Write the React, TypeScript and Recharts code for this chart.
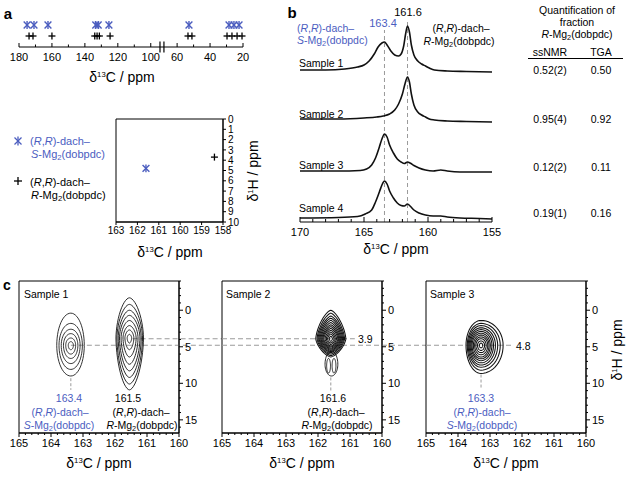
import React from 'react';
import { ComposedChart, Line, Scatter, XAxis, YAxis, ReferenceLine, ReferenceArea } from 'recharts';

const FONT = '"Liberation Sans", Arial, Helvetica, sans-serif';
const BLUE = '#4b5dbf';
const DASH = '#9a9a9a';

// ---------------- Panel a (top): 13C shifts of both phases ----------------
const aAxisGap = 24; // ppm removed by the axis break
const aShiftsS = [175.1, 170.9, 162.4, 133.4, 131.9, 125.4, 52.8, 28.5, 25.5, 22.4];
const aShiftsR = [173.9, 171.5, 160.0, 134.0, 132.6, 131.2, 124.7, 53.4, 51.0, 29.7, 26.7, 23.6, 20.6];
const aTickPpm = [180, 170, 160, 150, 140, 130, 120, 110, 100, 60, 50, 40, 30, 20];
const aTickLabels = [180, 160, 140, 120, 100, 60, 40, 20];
const aBreakUnits = [94.4, 92.0];

// ---------------- Panel a (box): 1H-13C correlation ----------------
const a2Carbon = [161.6, 158.4];
const a2Proton = [4.8, 3.7];
const a2XTicks = [158, 159, 160, 161, 162, 163];
const a2YTicks = [0, 1, 2, 3, 4, 5, 6, 7, 8, 9, 10];

// ---------------- Panel b: 1D 13C spectra [ppm, intensity] ----------------
const spec1: [number, number][] = [
  [170, 2], [168, 2], [166.5, 3], [165.5, 5], [165.0, 7], [164.6, 11], [164.2, 18], [163.9, 25], [163.6, 29],
  [163.4, 30], [163.2, 27], [162.9, 21], [162.6, 17], [162.3, 16], [162.1, 18], [161.9, 26], [161.75, 38],
  [161.6, 46], [161.45, 40], [161.3, 27], [161.1, 17], [160.8, 11], [160.5, 8], [160.2, 6], [159.9, 4],
  [159.5, 2], [158.5, 1], [157, 0.5], [155, 0],
];
const spec2: [number, number][] = [
  [170, 3], [167, 3], [165, 4], [164, 5], [163.5, 6], [163, 8], [162.6, 12], [162.3, 18], [162.0, 28],
  [161.8, 38], [161.6, 45], [161.45, 40], [161.3, 28], [161.1, 17], [160.8, 10], [160.5, 7], [160.2, 5],
  [159.9, 3], [159.5, 2], [158.5, 1], [157, 0.5], [155, 0],
];
const spec3: [number, number][] = [
  [170, 1], [167, 1], [165.3, 1.5], [164.8, 3], [164.4, 7], [164.1, 14], [163.8, 25], [163.6, 33], [163.4, 38],
  [163.2, 35], [163.0, 27], [162.7, 19], [162.4, 13], [162.1, 10], [161.85, 8.5], [161.6, 10], [161.4, 9],
  [161.1, 6.5], [160.7, 4], [160.2, 2], [159.6, 1], [159.0, 2], [158.5, 1], [157.5, 0], [155, 0],
];
const spec4: [number, number][] = [
  [170, 1], [167, 1.5], [165.5, 2.5], [164.9, 5], [164.4, 9], [164.1, 17], [163.8, 27], [163.6, 34], [163.4, 38],
  [163.2, 35], [163.0, 28], [162.7, 21], [162.4, 16], [162.1, 13.5], [161.85, 13], [161.6, 15], [161.4, 13],
  [161.1, 9], [160.7, 6], [160.2, 4], [159.6, 3], [159.0, 3], [158.5, 2], [157.5, 1], [156, 0.5], [155, 0],
];
const specNames = ['Sample 1', 'Sample 2', 'Sample 3', 'Sample 4'];
const specPeakMarks = [163.4, 161.6];
const bXTicks = [155, 156, 157, 158, 159, 160, 161, 162, 163, 164, 165, 166, 167, 168, 169, 170];
const bXLabels = [155, 160, 165, 170];

// table
const tableSsnmr = ['0.52(2)', '0.95(4)', '0.12(2)', '0.19(1)'];
const tableTga = ['0.50', '0.92', '0.11', '0.16'];

// ---------------- Panel c: 2D HETCOR contours ----------------
// levels: [extent toward high ppm, extent toward low ppm, extent up (low dH), extent down (high dH)]
const c1PeakS = { center: [163.38, 4.8], k: 1, w: 0.85, levels: [
  [0.44, 0.42, 4.4, 4.2], [0.37, 0.36, 3.0, 3.3], [0.3, 0.29, 2.2, 2.5], [0.23, 0.22, 1.6, 1.8], [0.16, 0.15, 1.0, 1.2], [0.08, 0.08, 0.5, 0.6],
] };
const c1PeakR = { center: [161.55, 3.8], k: 1.15, w: 0.9, levels: [
  [0.42, 0.44, 5.5, 7.1], [0.39, 0.41, 4.6, 6.3], [0.35, 0.37, 3.8, 5.4], [0.31, 0.33, 3.1, 4.5],
  [0.26, 0.27, 2.4, 3.6], [0.2, 0.21, 1.7, 2.6], [0.14, 0.14, 1.1, 1.6], [0.07, 0.07, 0.5, 0.7],
] };
const c2PeakR = { center: [161.6, 3.9], k: 1.35, w: 1.05, levels: [
  [0.47, 0.47, 3.9, 2.5], [0.43, 0.43, 3.5, 2.3], [0.4, 0.4, 3.1, 2.1], [0.37, 0.37, 2.8, 1.9], [0.34, 0.34, 2.5, 1.75],
  [0.31, 0.31, 2.2, 1.6], [0.28, 0.28, 1.9, 1.45], [0.25, 0.25, 1.65, 1.3], [0.22, 0.22, 1.4, 1.15], [0.18, 0.18, 1.15, 1.0],
  [0.14, 0.14, 0.9, 0.8], [0.1, 0.1, 0.65, 0.6], [0.05, 0.05, 0.35, 0.35],
] };
const c2Lobe = { center: [161.58, 7.4], k: 1, w: 0.9, levels: [[0.2, 0.2, 1.8, 1.6]] };
const c2LobeA = { center: [161.67, 7.6], k: 1, w: 0.9, levels: [[0.06, 0.06, 1.0, 1.0]] };
const c2LobeB = { center: [161.5, 7.6], k: 1, w: 0.9, levels: [[0.06, 0.06, 1.0, 1.0]] };
const c3PeakS = { center: [163.28, 4.8], k: 1, w: 1.05, levels: [
  [0.47, 0.69, 3.4, 3.85], [0.43, 0.6, 3.0, 3.4], [0.4, 0.52, 2.7, 3.0], [0.37, 0.45, 2.4, 2.7], [0.34, 0.39, 2.15, 2.4],
  [0.31, 0.34, 1.9, 2.1], [0.28, 0.29, 1.65, 1.85], [0.24, 0.25, 1.4, 1.6], [0.2, 0.21, 1.15, 1.3], [0.16, 0.16, 0.9, 1.0],
  [0.11, 0.11, 0.6, 0.7], [0.05, 0.05, 0.3, 0.35],
] };
const cXLabels = [160, 161, 162, 163, 164, 165];
const cYLabels = [0, 5, 10, 15];

type Peak = { center: number[]; k: number; w: number; levels: number[][] };

function contourPoints(p: Peak, lv: number[]) {
  const [cx, cy] = p.center;
  const [rL, rR, rT, rB] = lv;
  const pts: { x: number; y: number }[] = [];
  const n = 56;
  for (let i = 0; i <= n; i++) {
    const t = (i / n) * 2 * Math.PI;
    const c = Math.cos(t), s = Math.sin(t);
    const ux = Math.sign(c) * Math.pow(Math.abs(c), p.k);
    const uy = Math.sign(s) * Math.pow(Math.abs(s), p.k);
    pts.push({ x: cx - (ux >= 0 ? rR * ux : rL * ux), y: cy + (uy >= 0 ? rB * uy : rT * uy) });
  }
  return pts;
}

const toUnit = (p: number) => (p >= 80 ? p : p + aAxisGap);
const isInt = (v: number) => Math.abs(v - Math.round(v)) < 1e-6;

function BottomTick(props: any) {
  const { x, y, payload, o } = props;
  const lab = o.labelOf(payload.value);
  const len = lab != null ? o.major : o.minor;
  return (
    <g>
      <line x1={x} x2={x} y1={y} y2={y + o.dir * len} stroke="#000" strokeWidth={1} />
      {lab != null && (
        <text x={x} y={y + o.dy} textAnchor="middle" fontSize={o.fs} fontFamily={FONT} fill="#000">{lab}</text>
      )}
    </g>
  );
}
function RightTick(props: any) {
  const { x, y, payload, o } = props;
  const lab = o.labelOf(payload.value);
  const len = lab != null ? o.major : o.minor;
  return (
    <g>
      <line x1={x} x2={x + o.dir * len} y1={y} y2={y} stroke="#000" strokeWidth={1} />
      {lab != null && (
        <text x={x + o.dx} y={y} dy="0.36em" textAnchor="start" fontSize={o.fs} fontFamily={FONT} fill="#000">{lab}</text>
      )}
    </g>
  );
}

const StarShape = (props: any) => {
  const { cx, cy } = props;
  const r = 3.4;
  return (
    <g stroke={BLUE} strokeWidth={1.4}>
      <line x1={cx - r} y1={cy - r} x2={cx + r} y2={cy + r} />
      <line x1={cx - r} y1={cy + r} x2={cx + r} y2={cy - r} />
      <line x1={cx} y1={cy - r - 0.5} x2={cx} y2={cy + r + 0.5} />
    </g>
  );
};
const PlusShape = (props: any) => {
  const { cx, cy } = props;
  const r = 3.5;
  return (
    <g stroke="#000" strokeWidth={1.3}>
      <line x1={cx - r} y1={cy} x2={cx + r} y2={cy} />
      <line x1={cx} y1={cy - r} x2={cx} y2={cy + r} />
    </g>
  );
};

// ---------- text helpers ----------
const Dach = () => (<>(<i>R</i>,<i>R</i>)-dach–</>);
const MgS = () => (<><i>S</i>-Mg<sub style={{ fontSize: '0.7em', verticalAlign: '-0.3em', lineHeight: 0 }}>2</sub>(dobpdc)</>);
const MgR = () => (<><i>R</i>-Mg<sub style={{ fontSize: '0.7em', verticalAlign: '-0.3em', lineHeight: 0 }}>2</sub>(dobpdc)</>);
const CTitle = () => (<>δ<sup style={{ fontSize: '0.55em', verticalAlign: '0.7em', lineHeight: 0 }}>13</sup>C / ppm</>);
const HTitle = () => (<>δ<sup style={{ fontSize: '0.55em', verticalAlign: '0.7em', lineHeight: 0 }}>1</sup>H / ppm</>);

function T(props: { x: number; y: number; children: React.ReactNode; color?: string; size?: number; align?: 'center' | 'left'; rotate?: boolean; bold?: boolean }) {
  const { x, y, children, color = '#000', size = 10.5, align = 'center', rotate = false, bold = false } = props;
  const tr = align === 'center' ? 'translate(-50%,-50%)' : 'translate(0,-50%)';
  return (
    <div style={{ position: 'absolute', left: x, top: y, transform: tr + (rotate ? ' rotate(-90deg)' : ''), whiteSpace: 'nowrap', fontSize: size, lineHeight: 1, color, fontFamily: FONT, fontWeight: bold ? 700 : 400 }}>
      {children}
    </div>
  );
}

function ChartA1() {
  const sData = aShiftsS.map((p) => ({ x: toUnit(p), y: 2 }));
  const rData = aShiftsR.map((p) => ({ x: toUnit(p), y: 1 }));
  const o = {
    labelOf: (u: number) => { const p = u > 92 ? u : u - aAxisGap; return aTickLabels.includes(p) ? String(p) : null; },
    major: 4, minor: 2.5, dir: -1, dy: 14, fs: 11,
  };
  return (
    <div style={{ position: 'absolute', left: 0, top: 0 }}>
      <ComposedChart width={260} height={100} margin={{ top: 14, right: 17, bottom: 0, left: 19 }}>
        <XAxis type="number" dataKey="x" domain={[toUnit(20), 180]} reversed ticks={aTickPpm.map(toUnit)} interval={0}
          tickSize={0} tickMargin={0} tickLine={false} axisLine={{ stroke: '#000' }} height={53}
          tick={(p: any) => <BottomTick {...p} o={o} />} />
        <YAxis type="number" dataKey="y" domain={[0, 3]} hide />
        {aBreakUnits.map((u) => (
          <ReferenceLine key={u} segment={[{ x: u, y: -0.5 }, { x: u, y: 0.5 }]} stroke="#000" strokeWidth={1.2} ifOverflow="visible" />
        ))}
        <Scatter data={sData} shape={StarShape} isAnimationActive={false} />
        <Scatter data={rData} shape={PlusShape} isAnimationActive={false} />
      </ComposedChart>
    </div>
  );
}

function ChartA2() {
  const sData = [{ x: a2Carbon[0], y: a2Proton[0] }];
  const rData = [{ x: a2Carbon[1], y: a2Proton[1] }];
  const ox = { labelOf: (v: number) => String(v), major: 3, minor: 2, dir: 1, dy: 12, fs: 10 };
  const oy = { labelOf: (v: number) => String(v), major: 3, minor: 2, dir: 1, dx: 5, fs: 10 };
  return (
    <div style={{ position: 'absolute', left: 100, top: 110 }}>
      <ComposedChart width={180} height={160} margin={{ top: 9, right: 27, bottom: 0, left: 16 }}>
        <XAxis type="number" dataKey="x" domain={[158, 163]} reversed ticks={a2XTicks} interval={0}
          tickSize={0} tickMargin={0} tickLine={false} axisLine={{ stroke: '#000' }} height={48}
          tick={(p: any) => <BottomTick {...p} o={ox} />} />
        <YAxis type="number" dataKey="y" orientation="right" domain={[0, 10]} reversed ticks={a2YTicks} interval={0}
          tickSize={0} tickMargin={0} tickLine={false} axisLine={{ stroke: '#000' }} width={30}
          tick={(p: any) => <RightTick {...p} o={oy} />} />
        <ReferenceArea x1={158} x2={163} y1={0} y2={10} fill="none" stroke="#000" strokeWidth={1} />
        <Scatter data={sData} shape={StarShape} isAnimationActive={false} />
        <Scatter data={rData} shape={PlusShape} isAnimationActive={false} />
      </ComposedChart>
    </div>
  );
}

const specBaselines = [150, 100, 50, 3];
function ChartB() {
  const specs = [spec1, spec2, spec3, spec4];
  const o = { labelOf: (v: number) => (bXLabels.includes(v) ? String(v) : null), major: 5, minor: 3, dir: -1, dy: 14, fs: 11 };
  return (
    <div style={{ position: 'absolute', left: 280, top: 0 }}>
      <ComposedChart width={230} height={262} margin={{ top: 22, right: 18, bottom: 0, left: 20 }}>
        <XAxis type="number" dataKey="x" domain={[155, 170]} reversed ticks={bXTicks} interval={0}
          tickSize={0} tickMargin={0} tickLine={false} axisLine={{ stroke: '#000' }} height={40}
          tick={(p: any) => <BottomTick {...p} o={o} />} />
        <YAxis type="number" domain={[0, 200]} hide />
        <ReferenceLine segment={[{ x: specPeakMarks[0], y: 0 }, { x: specPeakMarks[0], y: 192 }]} stroke={DASH} strokeDasharray="4 3" ifOverflow="visible" />
        <ReferenceLine segment={[{ x: specPeakMarks[1], y: 0 }, { x: specPeakMarks[1], y: 202 }]} stroke={DASH} strokeDasharray="4 3" ifOverflow="visible" />
        {specs.map((s, i) => (
          <Line key={i} data={s.map(([x, h]) => ({ x, y: h + specBaselines[i] }))} dataKey="y" type="monotone"
            stroke="#111" strokeWidth={1.6} dot={false} activeDot={false} isAnimationActive={false} />
        ))}
      </ComposedChart>
    </div>
  );
}

type CPanel = { bx: number; peaks: Peak[]; hLines: number[][]; vLines: number[][] };
const cPanels: CPanel[] = [
  { bx: 19, peaks: [c1PeakS, c1PeakR], hLines: [[163.38, 158.66, 4.8], [161.45, 158.66, 3.9]], vLines: [[163.38, 9.3, 10.9]] },
  { bx: 222, peaks: [c2PeakR, c2Lobe, c2LobeA, c2LobeB], hLines: [[165, 160.85, 3.9], [165, 158.62, 4.8]], vLines: [[161.6, 9.2, 11.0]] },
  { bx: 426, peaks: [c3PeakS], hLines: [[165, 162.3, 4.8]], vLines: [[163.28, 8.8, 10.8]] },
];
const cXTicks = Array.from({ length: 26 }, (_, i) => 160 + i * 0.2);
const cYTicks = Array.from({ length: 21 }, (_, i) => i - 4);

function ChartC({ panel }: { panel: CPanel }) {
  const ox = { labelOf: (v: number) => (isInt(v) && cXLabels.includes(Math.round(v)) ? String(Math.round(v)) : null), major: 4, minor: 2, dir: 1, dy: 14, fs: 11 };
  const oy = { labelOf: (v: number) => (cYLabels.includes(v) ? String(v) : null), major: 4, minor: 2, dir: 1, dx: 6, fs: 11 };
  return (
    <div style={{ position: 'absolute', left: panel.bx - 5, top: 270 }}>
      <ComposedChart width={205} height={205} margin={{ top: 11, right: 10, bottom: 0, left: 5 }}>
        <XAxis type="number" dataKey="x" domain={[160, 165]} reversed ticks={cXTicks} interval={0}
          tickSize={0} tickMargin={0} tickLine={false} axisLine={{ stroke: '#000' }} height={42}
          tick={(p: any) => <BottomTick {...p} o={ox} />} />
        <YAxis type="number" dataKey="y" orientation="right" domain={[-4, 16.8]} reversed ticks={cYTicks} interval={0}
          tickSize={0} tickMargin={0} tickLine={false} axisLine={{ stroke: '#000' }} width={30}
          tick={(p: any) => <RightTick {...p} o={oy} />} />
        <ReferenceArea x1={160} x2={165} y1={-4} y2={16.8} fill="none" stroke="#000" strokeWidth={1} />
        {panel.hLines.map(([x1, x2, y], i) => (
          <ReferenceLine key={'h' + i} segment={[{ x: x1, y }, { x: x2, y }]} stroke={DASH} strokeDasharray="5 3" strokeWidth={1.1} ifOverflow="visible" />
        ))}
        {panel.vLines.map(([x, y1, y2], i) => (
          <ReferenceLine key={'v' + i} segment={[{ x, y: y1 }, { x, y: y2 }]} stroke={DASH} strokeDasharray="3 2" ifOverflow="visible" />
        ))}
        {panel.peaks.flatMap((pk, j) => pk.levels.map((lv, i) => (
          <Line key={j + '-' + i} data={contourPoints(pk, lv)} dataKey="y" type="linear" stroke="#111" strokeWidth={pk.w}
            dot={false} activeDot={false} isAnimationActive={false} />
        )))}
      </ComposedChart>
    </div>
  );
}

export default function App() {
  const specLabelY = [63, 114, 165, 208];
  const rowY = [70, 119, 167, 213];
  const cCenters = [99, 302, 506];
  return (
    <div style={{ position: 'absolute', left: 0, top: 0, width: 628, height: 477, background: '#fff', fontFamily: FONT, overflow: 'hidden' }}>
      <style>{'.recharts-surface{overflow:visible !important}'}</style>
      <ChartA1 />
      <ChartA2 />
      <ChartB />
      {cPanels.map((p, i) => <ChartC key={i} panel={p} />)}

      {/* panel letters */}
      <T x={8} y={13} size={15} bold>a</T>
      <T x={292} y={12} size={15} bold>b</T>
      <T x={7} y={285} size={14} bold>c</T>

      {/* panel a texts */}
      <T x={122} y={77} size={14}><CTitle /></T>
      <T x={170} y={252} size={14}><CTitle /></T>
      <T x={253} y={171} size={14} rotate><HTitle /></T>
      <svg style={{ position: 'absolute', left: 12, top: 135 }} width={12} height={12}>
        <g stroke={BLUE} strokeWidth={1.3}>
          <line x1={2.5} y1={2.5} x2={9.5} y2={9.5} /><line x1={2.5} y1={9.5} x2={9.5} y2={2.5} /><line x1={6} y1={1.5} x2={6} y2={10.5} />
        </g>
      </svg>
      <T x={30} y={141} align="left" color={BLUE} size={11}><Dach /></T>
      <T x={31} y={154} align="left" color={BLUE} size={11}><MgS /></T>
      <svg style={{ position: 'absolute', left: 12, top: 175 }} width={12} height={12}>
        <g stroke="#000" strokeWidth={1.3}><line x1={2} y1={6} x2={10} y2={6} /><line x1={6} y1={2} x2={6} y2={10} /></g>
      </svg>
      <T x={30} y={182} align="left" size={11}><Dach /></T>
      <T x={31} y={195} align="left" size={11}><MgR /></T>

      {/* panel b texts */}
      <T x={396} y={249} size={14}><CTitle /></T>
      <T x={383} y={23} color={BLUE} size={11}>163.4</T>
      <T x={408} y={12} size={11}>161.6</T>
      <T x={297} y={28} align="left" color={BLUE} size={10.5}><Dach /></T>
      <T x={297} y={40} align="left" color={BLUE} size={10.5}><MgS /></T>
      <T x={461} y={28} size={10.5}><Dach /></T>
      <T x={459} y={41} size={10.5}><MgR /></T>
      {specNames.map((n, i) => <T key={n} x={299} y={specLabelY[i]} align="left" size={10.5}>{n}</T>)}

      {/* table */}
      <T x={577} y={10} size={10.5}>Quantification of</T>
      <T x={577} y={22} size={10.5}>fraction</T>
      <T x={577} y={34} size={10.5}><MgR /></T>
      <T x={550} y={52} size={10.5}>ssNMR</T>
      <T x={601} y={52} size={10.5}>TGA</T>
      <div style={{ position: 'absolute', left: 528, top: 58, width: 95, height: 1.3, background: '#000' }} />
      {tableSsnmr.map((v, i) => <T key={'s' + i} x={550} y={rowY[i]} size={10.5}>{v}</T>)}
      {tableTga.map((v, i) => <T key={'t' + i} x={601} y={rowY[i]} size={10.5}>{v}</T>)}

      {/* panel c texts */}
      {cCenters.map((c, i) => <T key={'ct' + i} x={c} y={463} size={14}><CTitle /></T>)}
      <T x={617} y={350} size={14} rotate><HTitle /></T>
      <T x={24} y={294} align="left" size={10.5}>Sample 1</T>
      <T x={226} y={294} align="left" size={10.5}>Sample 2</T>
      <T x={430} y={294} align="left" size={10.5}>Sample 3</T>
      <T x={69} y={398} color={BLUE} size={10.5}>163.4</T>
      <T x={60} y={412} color={BLUE} size={10.5}><Dach /></T>
      <T x={59} y={425} color={BLUE} size={10.5}><MgS /></T>
      <T x={128} y={398} size={10.5}>161.5</T>
      <T x={141} y={412} size={10.5}><Dach /></T>
      <T x={142} y={425} size={10.5}><MgR /></T>
      <T x={333} y={398} size={10.5}>161.6</T>
      <T x={336} y={412} size={10.5}><Dach /></T>
      <T x={337} y={425} size={10.5}><MgR /></T>
      <T x={481} y={398} color={BLUE} size={10.5}>163.3</T>
      <T x={482} y={412} color={BLUE} size={10.5}><Dach /></T>
      <T x={482} y={425} color={BLUE} size={10.5}><MgS /></T>
      <T x={358} y={339} align="left" size={10.5}>3.9</T>
      <T x={516} y={346} align="left" size={10.5}>4.8</T>
    </div>
  );
}
